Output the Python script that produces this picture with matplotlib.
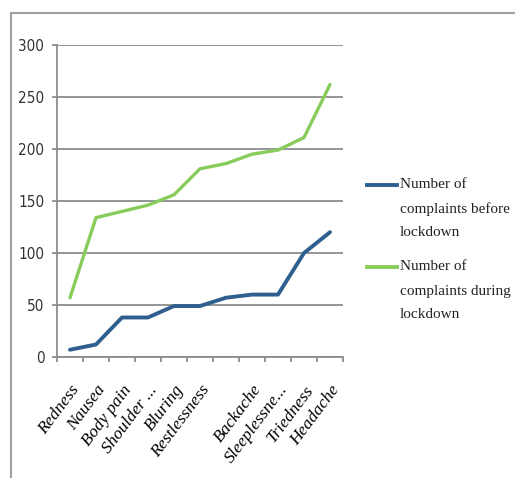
import matplotlib
matplotlib.use("Agg")
import matplotlib.pyplot as plt
import numpy as np
from matplotlib.lines import Line2D

symptoms = ["Redness", "Nausea", "Body pain", "Shoulder ...", "Bluring", "Restlessness",
            "", "Backache", "Sleeplessne...", "Triedness", "Headache"]
before_lockdown = [7, 12, 38, 38, 49, 49, 57, 60, 60, 100, 120]
during_lockdown = [57, 134, 140, 146, 156, 181, 186, 195, 199, 211, 262]
y_ticks = [0, 50, 100, 150, 200, 250, 300]
series_names = [["Number of", "complaints before", "lockdown"],
                ["Number of", "complaints during", "lockdown"]]
series_colors = ["#2f5f8f", "#88cc5c"]

W, H = 515, 478
fig = plt.figure(figsize=(W / 100, H / 100), dpi=100)
ax = fig.add_axes([57 / W, 1 - 357 / H, 286 / W, 312 / H])

x = np.arange(len(symptoms))
ax.plot(x, before_lockdown, color=series_colors[0], lw=2.8, solid_capstyle="round")
ax.plot(x, during_lockdown, color=series_colors[1], lw=2.4, solid_capstyle="round")

ax.set_xlim(-0.5, len(symptoms) - 0.5)
ax.set_ylim(0, 300)
ax.set_yticks(y_ticks)
ax.yaxis.grid(True, color="#8c8c8c", lw=1.3)
ax.set_axisbelow(True)

# category boundaries as tick marks, names in between
ax.set_xticks(np.arange(-0.5, len(symptoms), 1.0))
ax.set_xticklabels([])
ax.set_xticks(x, minor=True)
ax.set_xticklabels(symptoms, minor=True, rotation=53, ha="right", va="top",
                   rotation_mode="anchor", fontstyle="italic",
                   family=["Liberation Serif"], fontsize=12.5)
ax.tick_params(axis="x", which="major", length=3.6, color="#8c8c8c", width=1.3)
ax.tick_params(axis="x", which="minor", length=0, pad=18)
ax.tick_params(axis="y", length=3.6, color="#8c8c8c", width=1.3, pad=5.5)
for lab in ax.get_yticklabels():
    lab.set_family(["DejaVu Sans"])
    lab.set_stretch("condensed")
    lab.set_fontsize(11)
    lab.set_color("#333333")

for s in ["top", "right"]:
    ax.spines[s].set_visible(False)
for s in ["left", "bottom"]:
    ax.spines[s].set_color("#8c8c8c")
    ax.spines[s].set_linewidth(1.3)

# legend drawn by hand: handle sits on the first text line
for k, (lines, col) in enumerate(zip(series_names, series_colors)):
    y0 = 185 + 82 * k
    fig.add_artist(Line2D([367 / W, 397 / W], [1 - y0 / H] * 2, color=col, lw=2.8))
    for j, t in enumerate(lines):
        fig.text(400 / W, 1 - (y0 + 24 * j) / H, t, ha="left", va="center",
                 family=["Liberation Serif"], fontsize=11, color="#222222")

# outer frame of the chart image (cropped on right and bottom)
fig.add_artist(Line2D([11 / W, 11 / W], [0.0, 1 - 13 / H], color="#a0a0a0", lw=1.5))
fig.add_artist(Line2D([11 / W, 1.0], [1 - 13 / H] * 2, color="#a0a0a0", lw=1.5))

fig.savefig("out.png", dpi=100)
